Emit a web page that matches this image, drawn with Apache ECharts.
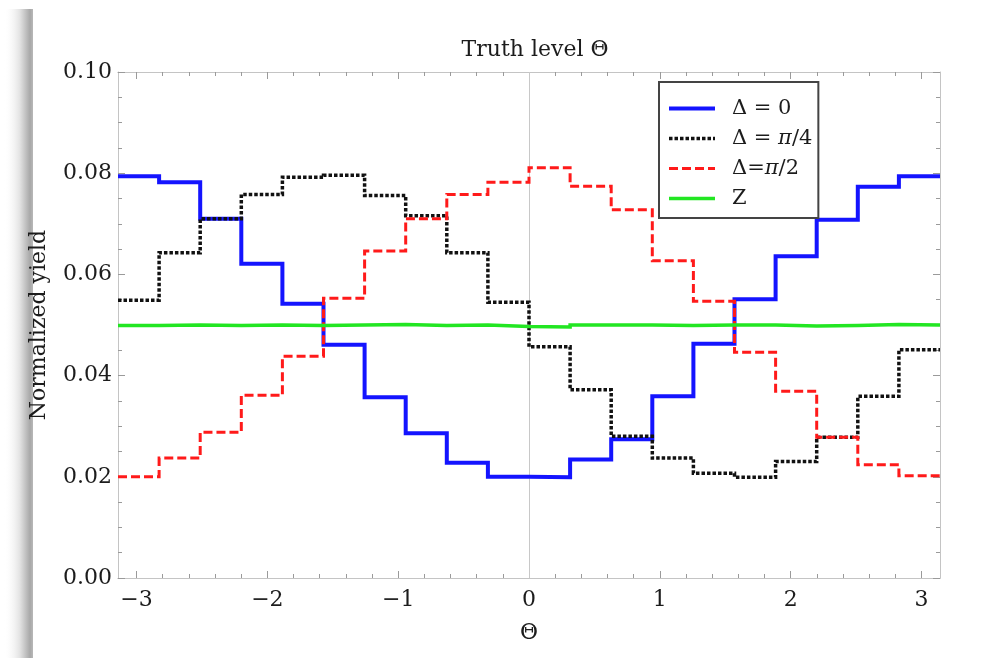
<!DOCTYPE html>
<html>
<head>
<meta charset="utf-8">
<title>Truth level Θ</title>
<script src="https://cdn.jsdelivr.net/npm/echarts@6/dist/echarts.min.js"></script>
<style>
  html, body { margin: 0; padding: 0; background: #ffffff; }
  #chart { width: 998px; height: 658px; }
</style>
</head>
<body>
<div id="chart"></div>
<script>
// Bin edges of the Θ histogram (20 bins across [-π, π])
const thetaEdges = [
  -3.1416, -2.8274, -2.5133, -2.1991, -1.8850, -1.5708, -1.2566, -0.9425, -0.6283, -0.3142,
  0.0000, 0.3142, 0.6283, 0.9425, 1.2566, 1.5708, 1.8850, 2.1991, 2.5133, 2.8274, 3.1416
];

// Normalized yield per bin
const delta0 = [
  0.0794, 0.0782, 0.0710, 0.0621, 0.0542, 0.0461, 0.0357, 0.0286, 0.0228, 0.0200,
  0.0199, 0.0234, 0.0274, 0.0359, 0.0463, 0.0551, 0.0636, 0.0708, 0.0773, 0.0794
];
const deltaQuarterPi = [
  0.0549, 0.0643, 0.0710, 0.0758, 0.0792, 0.0796, 0.0756, 0.0716, 0.0643, 0.0545,
  0.0457, 0.0372, 0.0280, 0.0237, 0.0207, 0.0199, 0.0230, 0.0278, 0.0359, 0.0451
];
const deltaHalfPi = [
  0.0200, 0.0237, 0.0288, 0.0361, 0.0438, 0.0553, 0.0646, 0.0710, 0.0758, 0.0782,
  0.0811, 0.0774, 0.0728, 0.0627, 0.0547, 0.0446, 0.0369, 0.0278, 0.0224, 0.0202
];
const zYield = [
  0.0499, 0.0500, 0.0499, 0.0500, 0.0499, 0.0500, 0.0501, 0.0499, 0.0500, 0.0497,
  0.0496, 0.0500, 0.0500, 0.0499, 0.0500, 0.0500, 0.0498, 0.0499, 0.0501, 0.0500
];

const seriesNames = ['Δ = 0', 'Δ = π/4', 'Δ=π/2', 'Z'];
const xMajorTicks = [-3, -2, -1, 0, 1, 2, 3];
const xMinorTicks = [
  -3.0, -2.8, -2.6, -2.4, -2.2, -2.0, -1.8, -1.6, -1.4, -1.2, -1.0, -0.8, -0.6, -0.4, -0.2,
  0.0, 0.2, 0.4, 0.6, 0.8, 1.0, 1.2, 1.4, 1.6, 1.8, 2.0, 2.2, 2.4, 2.6, 2.8, 3.0
];

const FONT = '"DejaVu Serif", "Liberation Serif", serif';
const TEXT = '#1c1c1c';
const FRAME = '#c4c4c4';
const TICK = '#9a9a9a';
const xMin = thetaEdges[0];
const xMax = thetaEdges[thetaEdges.length - 1];

// Histogram outline: one point per left bin edge, plus the closing right edge
function histogram(values) {
  return thetaEdges.map((x, i) => [x, values[Math.min(i, values.length - 1)]]);
}

function frameX(position, ticks, len, labels) {
  return {
    type: 'value', position: position, min: xMin, max: xMax,
    axisLine: { show: true, onZero: false, lineStyle: { color: FRAME, width: 1 } },
    axisTick: { show: true, inside: true, length: len, customValues: ticks,
                lineStyle: { color: TICK, width: 1 } },
    axisLabel: labels ? {
      show: true, customValues: xMajorTicks, margin: 11,
      fontFamily: FONT, fontSize: 22, color: TEXT,
      formatter: v => (v < 0 ? '\u2212' + Math.abs(v) : String(v))
    } : { show: false },
    splitLine: { show: false }
  };
}

function frameY(position, labels) {
  return {
    type: 'value', position: position, min: 0, max: 0.1, interval: 0.02,
    axisLine: { show: true, onZero: false, lineStyle: { color: FRAME, width: 1 } },
    axisTick: { show: true, inside: true, length: 7, lineStyle: { color: TICK, width: 1 } },
    minorTick: { show: true, splitNumber: 4, length: 4, lineStyle: { color: TICK, width: 1 } },
    axisLabel: labels ? {
      show: true, margin: 6, fontFamily: FONT, fontSize: 22, color: TEXT,
      formatter: v => v.toFixed(2)
    } : { show: false },
    splitLine: { show: false }
  };
}

const xAxes = [
  Object.assign(frameX('bottom', xMajorTicks, 7, true), {
    name: 'Θ', nameLocation: 'middle', nameGap: 44,
    nameTextStyle: { fontFamily: FONT, fontSize: 22, color: TEXT }
  }),
  frameX('bottom', xMinorTicks, 4, false),
  frameX('top', xMajorTicks, 7, false),
  frameX('top', xMinorTicks, 4, false)
];

const yAxes = [
  Object.assign(frameY('left', true), {
    name: 'Normalized yield', nameLocation: 'middle', nameGap: 68,
    nameTextStyle: { fontFamily: FONT, fontSize: 22, color: TEXT }
  }),
  frameY('right', false)
];

const styles = [
  { color: '#1414ff', width: 4, type: 'solid' },
  { color: '#111111', width: 3.5, type: [3.5, 2] },
  { color: '#ff1a1a', width: 3, type: [9, 4] },
  { color: '#22e622', width: 3.5, type: 'solid' }
];
const valueSets = [delta0, deltaQuarterPi, deltaHalfPi, zYield];

const series = valueSets.map((vals, k) => ({
  name: seriesNames[k],
  type: 'line',
  step: 'end',
  xAxisIndex: 0,
  yAxisIndex: 0,
  symbol: 'none',
  animation: false,
  z: 3 + k,
  color: styles[k].color,
  lineStyle: { color: styles[k].color, width: styles[k].width, type: styles[k].type, cap: 'butt', join: 'miter' },
  data: histogram(vals)
}));

// Light vertical guide at Θ = 0
series[0].markLine = {
  silent: true, symbol: 'none', animation: false,
  label: { show: false },
  lineStyle: { color: '#c8c8c8', width: 1, type: 'solid' },
  data: [{ xAxis: 0 }],
  z: 1
};

const chart = echarts.init(document.getElementById('chart'), null, { renderer: 'canvas' });
chart.setOption({
  backgroundColor: '#ffffff',
  animation: false,
  title: {
    text: 'Truth level Θ', left: 530, top: 34, textAlign: 'center',
    textStyle: { fontFamily: FONT, fontSize: 22, fontWeight: 'normal', color: TEXT }
  },
  grid: { left: 118, right: 58, top: 72, bottom: 80, containLabel: false },
  legend: {
    orient: 'vertical', left: 659, top: 82,
    backgroundColor: '#ffffff',
    borderColor: '#444444', borderWidth: 2, borderRadius: 0,
    padding: [16, 6, 9, 8],
    itemGap: 9, itemWidth: 46, itemHeight: 22,
    itemStyle: { opacity: 0, borderWidth: 0 },
    lineStyle: { width: 'inherit' },
    data: seriesNames,
    formatter: name => name.replace('π', '{i|π}'),
    textStyle: {
      fontFamily: FONT, fontSize: 21, color: TEXT, padding: [0, 0, 0, 12],
      rich: { i: { fontFamily: FONT, fontSize: 21, fontStyle: 'italic', color: TEXT } }
    }
  },
  graphic: [{
    type: 'rect', silent: true, z: -1,
    shape: { x: 4, y: 9, width: 29, height: 660 },
    style: {
      fill: new echarts.graphic.LinearGradient(0, 0, 1, 0, [
        { offset: 0, color: 'rgba(255,255,255,0)' },
        { offset: 0.55, color: '#e2e2e2' },
        { offset: 0.9, color: '#a8a8a8' },
        { offset: 1, color: '#b8b8b8' }
      ])
    }
  }],
  xAxis: xAxes,
  yAxis: yAxes,
  series: series
});
</script>
</body>
</html>
